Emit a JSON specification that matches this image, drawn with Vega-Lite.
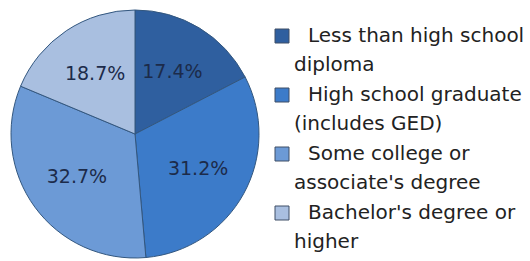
{
  "$schema": "https://vega.github.io/schema/vega-lite/v6.json",
  "width": 270,
  "height": 268,
  "padding": 0,
  "autosize": {"type": "pad"},
  "background": "white",
  "config": {"style": {"guide-label": {"lineHeight": 29}}},
  "data": {
    "values": [
      {"category": "Less than high school diploma", "value": 17.4, "label": "17.4%", "order": 1},
      {"category": "High school graduate (includes GED)", "value": 31.2, "label": "31.2%", "order": 2},
      {"category": "Some college or associate's degree", "value": 32.7, "label": "32.7%", "order": 3},
      {"category": "Bachelor's degree or higher", "value": 18.7, "label": "18.7%", "order": 4}
    ]
  },
  "encoding": {
    "theta": {"field": "value", "type": "quantitative", "stack": true},
    "order": {"field": "order", "type": "quantitative"}
  },
  "layer": [
    {
      "mark": {"type": "arc", "outerRadius": 124, "stroke": "#33577f", "strokeWidth": 1},
      "encoding": {
        "color": {
          "field": "category",
          "type": "nominal",
          "sort": ["Less than high school diploma", "High school graduate (includes GED)", "Some college or associate's degree", "Bachelor's degree or higher"],
          "scale": {
            "domain": ["Less than high school diploma", "High school graduate (includes GED)", "Some college or associate's degree", "Bachelor's degree or higher"],
            "range": ["#2f5f9f", "#3c7bc9", "#6c9ad6", "#a9bfe0"]
          },
          "legend": {
            "title": null,
            "orient": "none",
            "legendX": 272,
            "legendY": 26,
            "symbolType": "square",
            "symbolSize": 196,
            "symbolStrokeColor": "#3f4f66",
            "symbolStrokeWidth": 1,
            "labelFont": "DejaVu Sans",
            "labelFontSize": 20,
            "labelColor": "#222222",
            "labelLimit": 300,
            "labelOffset": 2,
            "rowPadding": 10,
            "labelExpr": "datum.label == 'Less than high school diploma' ? ['\u200b\u2002\u2009Less than high school', 'diploma'] : datum.label == 'High school graduate (includes GED)' ? ['\u200b\u2002\u2009High school graduate', '(includes GED)'] : datum.label == \"Some college or associate's degree\" ? ['\u200b\u2002\u2009Some college or', \"associate's degree\"] : [\"\u200b\u2002\u2009Bachelor's degree or\", 'higher']"
          }
        }
      }
    },
    {
      "mark": {"type": "text", "radius": 72, "font": "DejaVu Sans", "fontSize": 19, "color": "#1c2b4a"},
      "encoding": {
        "text": {"field": "label", "type": "nominal"}
      }
    }
  ]
}
